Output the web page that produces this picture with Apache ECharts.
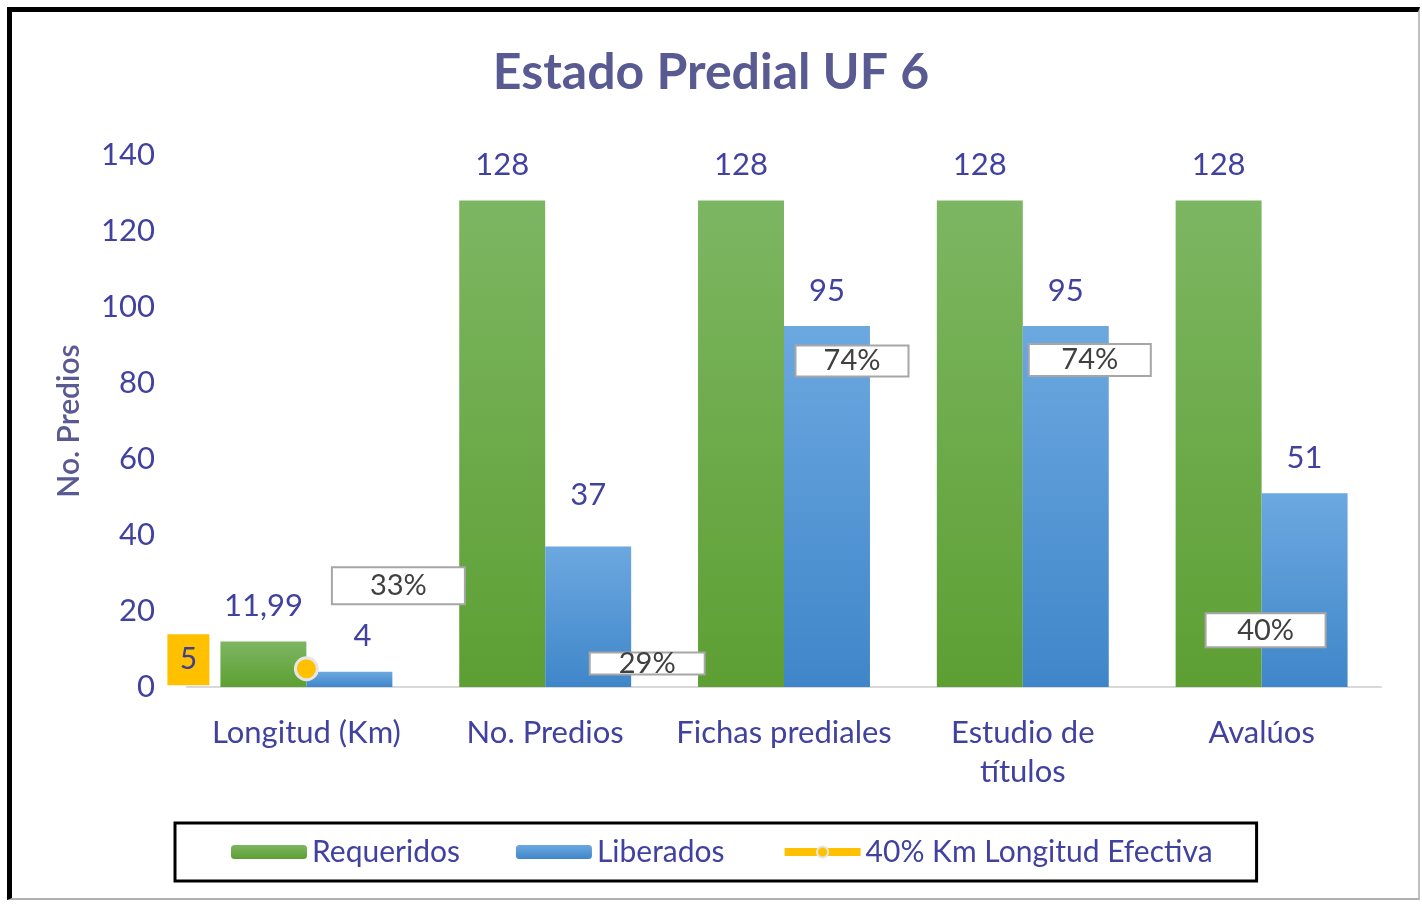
<!DOCTYPE html>
<html>
<head>
<meta charset="utf-8">
<script src="https://cdn.jsdelivr.net/npm/echarts@6/dist/echarts.min.js"></script>
<style>
html,body{margin:0;padding:0;background:#fff;}
#frame{position:absolute;left:7px;top:7px;width:1413px;height:893px;border-top:5px solid #000;border-left:5px solid #000;border-right:2px solid #c0c0c0;border-bottom:2px solid #b0b0b0;box-sizing:border-box;}
#chart{position:absolute;left:0;top:0;width:1422px;height:904px;}
</style>
</head>
<body>
<div id="frame"></div>
<div id="chart"></div>
<script>
// ---- data ----
var categories = ['Longitud (Km)', 'No. Predios', 'Fichas prediales', 'Estudio de\ntítulos', 'Avalúos'];
var requeridos = [11.99, 128, 128, 128, 128];
var liberados = [4, 37, 95, 95, 51];
var longitudEfectiva = [4.8, null, null, null, null];
var porcentajes = ['33%', '29%', '74%', '74%', '40%'];
var yTicks = { min: 0, max: 140, interval: 20 };

// ---- layout of percent boxes (offset from point, box size) ----
var pctLayout = [
  { offset: [92, -86], w: 131, h: 35 },
  { offset: [102, 117], w: 113, h: 20 },
  { offset: [68, 35], w: 111, h: 29 },
  { offset: [67, 34], w: 120, h: 30 },
  { offset: [4, 137], w: 118, h: 32 }
];

var FONT = 'Lato';
var blueText = '#4141a0';
var titleColor = '#5a5a93';

var chart = echarts.init(document.getElementById('chart'), null, { renderer: 'canvas' });

function fmt(v) { return String(v).replace('.', ','); }

var greenGrad = new echarts.graphic.LinearGradient(0, 0, 0, 1, [
  { offset: 0, color: '#7db662' }, { offset: 1, color: '#5d9f33' }
]);
var blueGrad = new echarts.graphic.LinearGradient(0, 0, 0, 1, [
  { offset: 0, color: '#6ca8e0' }, { offset: 1, color: '#3f86c9' }
]);

var pctData = liberados.map(function (v, i) {
  var L = pctLayout[i];
  return {
    value: v,
    label: { width: L.w, height: L.h, lineHeight: L.h, formatter: porcentajes[i] }
  };
});

var libData = liberados.map(function (v, i) {
  var d = { value: v };
  if (i === 1) d.label = { distance: 36 };
  if (i === 0) d.label = { offset: [13, 0] };
  return d;
});

var option = {
  animation: false,
  backgroundColor: 'transparent',
  title: {
    text: 'Estado Predial UF 6',
    left: 'center',
    top: 43,
    textStyle: { fontFamily: FONT, fontWeight: 'bold', fontSize: 50, color: titleColor }
  },
  grid: { left: 187, right: 41, top: 155, bottom: 217 },
  legend: {
    data: [
      { name: 'Requeridos' },
      { name: 'Liberados' },
      { name: '40% Km Longitud Efectiva', lineStyle: { width: 8, color: '#ffc000' } }
    ],
    left: 175,
    top: 823,
    padding: [14, 44, 14, 56],
    borderColor: '#000',
    borderWidth: 3,
    itemWidth: 76,
    itemHeight: 14,
    itemGap: 56,
    textStyle: { fontFamily: FONT, fontSize: 30, color: blueText }
  },
  xAxis: {
    type: 'category',
    data: categories,
    axisLine: { lineStyle: { color: '#d9d9d9', width: 2 } },
    axisTick: { show: false },
    axisLabel: { interval: 0, fontFamily: FONT, fontSize: 31, color: blueText, margin: 26, lineHeight: 39 }
  },
  yAxis: {
    type: 'value',
    min: yTicks.min,
    max: yTicks.max,
    interval: yTicks.interval,
    name: 'No. Predios',
    nameLocation: 'middle',
    nameGap: 103,
    nameTextStyle: { fontFamily: FONT, fontSize: 30, fontWeight: 600, color: titleColor },
    splitLine: { show: false },
    axisLine: { show: false },
    axisTick: { show: false },
    axisLabel: { fontFamily: FONT, fontSize: 31, color: blueText, margin: 32 }
  },
  series: [
    {
      name: 'Requeridos',
      type: 'bar',
      data: requeridos,
      barGap: '0%',
      barCategoryGap: '28%',
      itemStyle: { color: greenGrad },
      label: {
        show: true, position: 'top', distance: 20,
        fontFamily: FONT, fontSize: 31, color: blueText,
        formatter: function (p) { return fmt(p.value); }
      }
    },
    {
      name: 'Liberados',
      type: 'bar',
      data: libData,
      barGap: '0%',
      barCategoryGap: '28%',
      itemStyle: { color: blueGrad },
      label: {
        show: true, position: 'top', distance: 20,
        fontFamily: FONT, fontSize: 31, color: blueText,
        formatter: function (p) { return fmt(p.value); }
      }
    },
    {
      name: '40% Km Longitud Efectiva',
      type: 'line',
      data: longitudEfectiva,
      z: 5,
      symbol: 'circle',
      symbolSize: 22,
      lineStyle: { color: '#ffc000', width: 8 },
      itemStyle: { color: '#ffc000', borderColor: '#e6e6e6', borderWidth: 3 },
      label: {
        show: true,
        position: 'inside',
        offset: [-118, -9],
        width: 42,
        height: 51,
        align: 'center',
        verticalAlign: 'middle',
        lineHeight: 51,
        backgroundColor: '#ffc000',
        fontFamily: FONT, fontSize: 30, color: '#40408f',
        formatter: function (p) { return String(Math.round(p.value)); }
      }
    },
    {
      name: 'pct',
      type: 'scatter',
      data: pctData,
      symbolSize: 2,
      z: 10,
      itemStyle: { color: 'rgba(0,0,0,0)', opacity: 1 },
      label: {
        show: true,
        position: 'inside',
        align: 'center',
        verticalAlign: 'middle',
        opacity: 1,
        backgroundColor: '#ffffff',
        borderColor: '#a6a6a6',
        borderWidth: 2,
        fontFamily: FONT, fontSize: 29, color: '#404040'
      },
      labelLayout: function (params) {
        var L = pctLayout[params.dataIndex];
        return { dx: L.offset[0], dy: L.offset[1], hideOverlap: false };
      },
      emphasis: { disabled: true }
    }
  ]
};
chart.setOption(option);
</script>
</body>
</html>
